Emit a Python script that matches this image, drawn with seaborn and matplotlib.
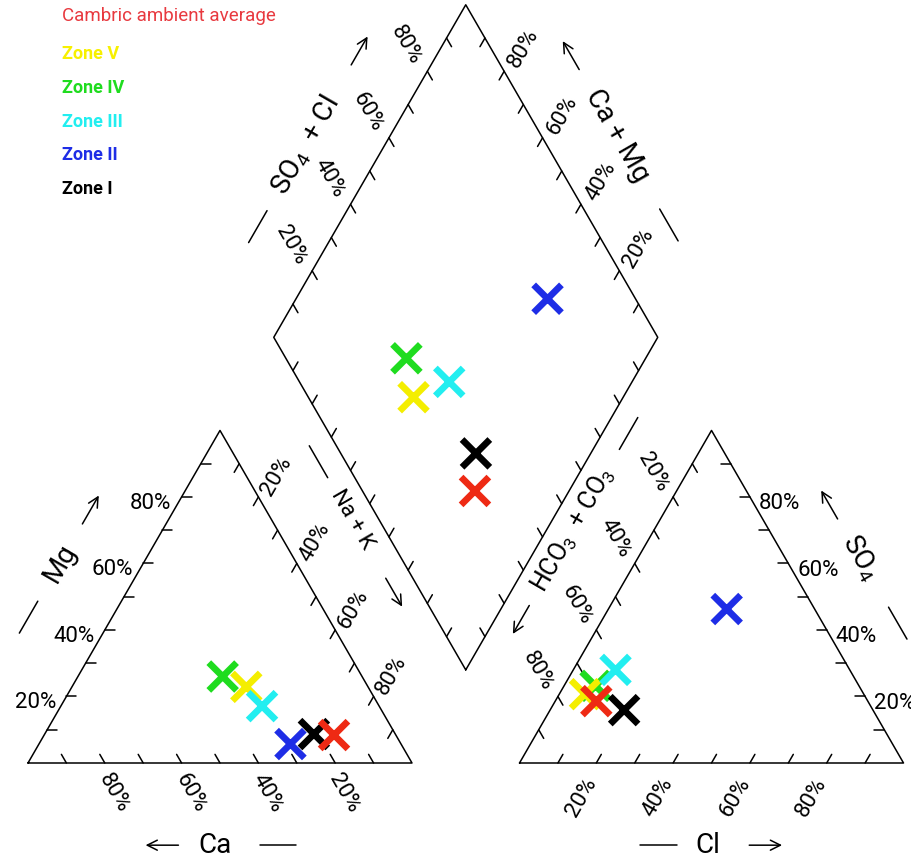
"""
Piper diagram - Cambric aquifer zones
"""

import numpy as np
import pandas as pd
import matplotlib
matplotlib.use('Agg')
import matplotlib.pyplot as plt
import seaborn as sns

# ============================================
# Data (percent of meq/L)
# ============================================
samples = ['Zone IV', 'Zone V', 'Zone III', 'Zone II', 'Zone I', 'Cambric ambient average']
ca = [36.3, 31.7, 30.5, 28.8, 21.2, 16.1]
mg = [26.0, 22.9, 17.1, 5.7, 8.7, 8.4]
na_k = [37.7, 45.4, 52.4, 65.5, 70.1, 75.5]
cl = [8.2, 6.7, 11.0, 30.8, 19.3, 10.7]
so4 = [23.2, 20.7, 28.0, 46.3, 15.9, 18.6]
hco3 = [68.6, 72.6, 61.0, 22.9, 64.8, 70.7]

legend_labels = ['Cambric ambient average', 'Zone V', 'Zone IV', 'Zone III', 'Zone II', 'Zone I']
tick_pcts = [20, 40, 60, 80]

palette = {
    'Zone V': '#f4ee00',
    'Zone IV': '#1fdc1f',
    'Zone III': '#22eef0',
    'Zone II': '#1e2de6',
    'Zone I': '#000000',
    'Cambric ambient average': '#ee2a14',
}
text_colors = {**palette, 'Cambric ambient average': '#e8393f', 'Zone V': '#f7f000'}

# ============================================
# Geometry
# ============================================
SQ = np.sqrt(3) / 2
GAP = 28          # gap between the two triangles
TICK = 2.6        # tick length
LW = 1.1

df = pd.DataFrame({'sample': samples, 'ca': ca, 'mg': mg, 'na_k': na_k,
                   'cl': cl, 'so4': so4, 'hco3': hco3})

cat = pd.DataFrame({'sample': df['sample'],
                    'x': df['na_k'] + df['mg'] / 2,
                    'y': df['mg'] * SQ})
an = pd.DataFrame({'sample': df['sample'],
                   'x': 100 + GAP + df['cl'] + df['so4'] / 2,
                   'y': df['so4'] * SQ})
camg = df['ca'] + df['mg']
so4cl = df['so4'] + df['cl']
dia = pd.DataFrame({'sample': df['sample'],
                    'x': 100 + GAP / 2 + (so4cl - camg) / 2,
                    'y': GAP * SQ + (camg + so4cl) * SQ})
pts = pd.concat([cat, an, dia], ignore_index=True)

sns.set_theme(style='white')
plt.rcParams['font.family'] = ['Roboto', 'DejaVu Sans']
plt.rcParams['text.color'] = 'black'
plt.rcParams['mathtext.fontset'] = 'custom'
plt.rcParams['mathtext.rm'] = 'Roboto'

fig = plt.figure(figsize=(9.11, 8.64), dpi=100)
ax = fig.add_axes([0, 0, 1, 1])
ax.set_xlim(-7.29, -7.29 + 911 / 3.84)
ax.set_ylim(-101 / 3.84, 763 / 3.84)
ax.axis('off')

# vertices
A, Bv, C = np.array([0, 0]), np.array([100, 0]), np.array([50, 100 * SQ])
D, E, F = np.array([100 + GAP, 0]), np.array([200 + GAP, 0]), np.array([150 + GAP, 100 * SQ])
B = np.array([100 + GAP / 2, GAP * SQ])
L = B + np.array([-50, 100 * SQ])
R = B + np.array([50, 100 * SQ])
T = B + np.array([0, 200 * SQ])

for poly in ([A, Bv, C, A], [D, E, F, D], [B, R, T, L, B]):
    poly = np.array(poly)
    ax.plot(poly[:, 0], poly[:, 1], color='black', lw=LW)


def side(p0, p1, tdir, off=None, rot=0, ha='center', fs=16):
    """ticks every 10% from p0 (0%) to p1 (100%), labels every 20%"""
    tdir = np.array(tdir)
    for k in range(1, 10):
        p = p0 + (p1 - p0) * k / 10
        q = p + tdir * TICK
        ax.plot([p[0], q[0]], [p[1], q[1]], color='black', lw=LW)
        if off is not None and k * 10 in tick_pcts:
            ax.text(p[0] + off[0], p[1] + off[1], f'{k * 10}%', rotation=rot,
                    rotation_mode='anchor', ha=ha, va='center', fontsize=fs)


# left triangle (cations)
side(A, C, (1, 0), off=(-2.6, -1.6), ha='right')                  # Mg
side(Bv, A, (-0.5, SQ), off=(2.4, -7.9), rot=-60)                  # Ca
side(C, Bv, (-0.5, -SQ), off=(4.7, 5.5), rot=60)                   # Na + K
# right triangle (anions)
side(D, E, (0.5, SQ), off=(-3.9, -8.9), rot=60)                    # Cl
side(E, F, (-1, 0), off=(2.3, -1.8), ha='left')                     # SO4
side(F, D, (0.5, -SQ), off=(-5.1, 6.5), rot=-60)                   # HCO3 + CO3
# diamond
side(L, T, (0.5, -SQ), off=(-5.5, 6.7), rot=-60)                   # SO4 + Cl
side(R, T, (-0.5, -SQ), off=(5.1, 5.9), rot=60)                    # Ca + Mg
side(B, L, (0.5, SQ))
side(B, R, (-0.5, SQ))


def axis_title(cx, cy, label, rot, dash_at, arrow_at, sign, fs=20):
    u = np.array([np.cos(np.radians(rot)), np.sin(np.radians(rot))])
    c = np.array([cx, cy])
    ax.text(cx, cy, label, rotation=rot, rotation_mode='anchor',
            ha='center', va='center', fontsize=fs)
    d0, d1 = c + u * (dash_at - 4.8), c + u * (dash_at + 4.8)
    ax.plot([d0[0], d1[0]], [d0[1], d1[1]], color='black', lw=LW)
    tail, head = c + u * (arrow_at - sign * 5.0), c + u * (arrow_at + sign * 5.0)
    ax.annotate('', xy=head, xytext=tail,
                arrowprops=dict(arrowstyle='->', lw=LW, color='black', mutation_scale=18))


axis_title(8.3, 52.1, 'Mg', 60, -16.3, 16.0, 1)
axis_title(48.7, -21.4, 'Ca', 0, 16.4, -13.8, -1)
axis_title(84.4, 63.3, 'Na + K', -60, -17.5, 21.8, 1, fs=16)
axis_title(72.1, 160.9, r'SO$_\mathregular{4}$  + Cl', 60, -24.5, 28.4, 1)
axis_title(153.4, 163.5, 'Ca + Mg', -60, 27.0, -24.0, -1)
axis_title(141.9, 60.7, r'HCO$_\mathregular{3}$  + CO$_\mathregular{3}$', 60, 29.0, -27.0, -1, fs=18)
axis_title(216.7, 53.4, r'SO$_\mathregular{4}$', -60, 19.6, -16.0, -1)
axis_title(177.1, -21.4, 'Cl', 0, -13.0, 15.0, 1)

# sample markers
sns.scatterplot(data=pts, x='x', y='y', hue='sample', palette=palette,
                marker='x', s=400, linewidth=4.8, legend=False, ax=ax, zorder=5)

# coloured text legend
legend_y = [16, 54, 88, 122, 155, 189]
for name, ypx in zip(legend_labels, legend_y):
    bold = name.startswith('Zone')
    fig.text(62 / 911, 1 - ypx / 864, name, color=text_colors[name],
             fontsize=13 if bold else 13.5, fontweight='bold' if bold else 'normal',
             va='center', ha='left')

fig.savefig('out.png', dpi=100)
plt.close()
